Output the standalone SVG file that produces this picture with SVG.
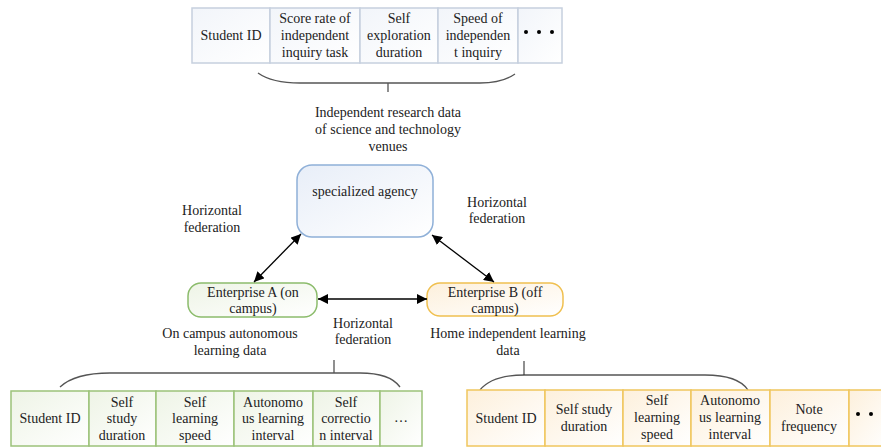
<svg xmlns="http://www.w3.org/2000/svg" width="881" height="448" viewBox="0 0 881 448">
<defs>
<linearGradient id="gBlue" x1="0" y1="0" x2="1" y2="1"><stop offset="0" stop-color="#e8eef8"/><stop offset="1" stop-color="#ffffff"/></linearGradient>
<linearGradient id="gTop" x1="0" y1="0" x2="1" y2="1"><stop offset="0" stop-color="#f2f5fa"/><stop offset="1" stop-color="#ffffff"/></linearGradient>
<linearGradient id="gGreen" x1="0" y1="0" x2="1" y2="1"><stop offset="0" stop-color="#eef4e6"/><stop offset="1" stop-color="#ffffff"/></linearGradient>
<linearGradient id="gOrange" x1="0" y1="0" x2="1" y2="1"><stop offset="0" stop-color="#fdf0dc"/><stop offset="1" stop-color="#ffffff"/></linearGradient>
<marker id="ah" viewBox="0 0 10 10" refX="10" refY="5" markerWidth="10" markerHeight="10" markerUnits="userSpaceOnUse" orient="auto-start-reverse"><path d="M0,0 L10,5 L0,10 z" fill="#000"/></marker>
</defs>
<style>
text{font-family:"Liberation Serif","Times New Roman",serif;font-size:14px;fill:#222;text-anchor:middle}
.tb{fill:url(#gTop);stroke:#c6d0de;stroke-width:1.5}
.gb{fill:url(#gGreen);stroke:#9cc27a;stroke-width:1.5}
.ob{fill:url(#gOrange);stroke:#f0c65e;stroke-width:1.5}
.brace{fill:none;stroke:#555;stroke-width:1.3}
.conn{stroke:#000;stroke-width:1.3;fill:none;marker-start:url(#ah);marker-end:url(#ah)}
.dot{fill:#000}
</style>

<g id="top-table">
<rect class="tb" x="192" y="8" width="78" height="55"/>
<rect class="tb" x="270" y="8" width="90" height="55"/>
<rect class="tb" x="360" y="8" width="78" height="55"/>
<rect class="tb" x="438" y="8" width="80" height="55"/>
<rect class="tb" x="518" y="8" width="44" height="55"/>
<text x="231" y="40">Student ID</text>
<text x="315" y="23">Score rate of</text><text x="315" y="40">independent</text><text x="315" y="57">inquiry task</text>
<text x="399" y="23">Self</text><text x="399" y="40">exploration</text><text x="399" y="57">duration</text>
<text x="478" y="23">Speed of</text><text x="478" y="40">independen</text><text x="478" y="57">t inquiry</text>
<circle class="dot" cx="526" cy="32" r="2"/><circle class="dot" cx="539" cy="32" r="2"/><circle class="dot" cx="552" cy="32" r="2"/>
<path class="brace" d="M258,73 Q272,83 300,83 L480,83 Q502,83 515,74 M388,83 L388,92"/>
<text x="388" y="117">Independent research data</text>
<text x="388" y="134">of science and technology</text>
<text x="388" y="151">venues</text>
</g>

<g id="agency">
<rect x="297" y="165" width="136" height="72" rx="15" fill="url(#gBlue)" stroke="#8fb0d8" stroke-width="1.5"/>
<text x="365" y="196">specialized agency</text>
</g>

<g id="enterprise-a">
<rect x="188" y="283" width="129" height="34" rx="13" fill="url(#gGreen)" stroke="#8cbc6c" stroke-width="1.5"/>
<text x="253" y="297">Enterprise A (on</text>
<text x="253" y="313">campus)</text>
</g>

<g id="enterprise-b">
<rect x="427" y="283" width="136" height="33" rx="13" fill="url(#gOrange)" stroke="#f0c050" stroke-width="1.5"/>
<text x="495" y="297">Enterprise B (off</text>
<text x="495" y="313">campus)</text>
</g>

<g id="connectors">
<line class="conn" x1="254" y1="282" x2="301" y2="234"/>
<line class="conn" x1="432" y1="235" x2="494" y2="282"/>
<line class="conn" x1="318" y1="299" x2="427" y2="299"/>
</g>

<g id="labels">
<text x="212" y="215">Horizontal</text><text x="212" y="232">federation</text>
<text x="497" y="207">Horizontal</text><text x="497" y="223">federation</text>
<text x="363" y="328">Horizontal</text><text x="363" y="344">federation</text>
<text x="230" y="338">On campus autonomous</text><text x="230" y="355">learning data</text>
<text x="508" y="338">Home independent learning</text><text x="508" y="355">data</text>
</g>

<g id="bottom-left-table">
<path class="brace" d="M60,387 Q75,373 110,373 L360,373 Q390,373 400,387 M334,360 L334,373"/>
<rect class="gb" x="11" y="391" width="78" height="55"/>
<rect class="gb" x="89" y="391" width="67" height="55"/>
<rect class="gb" x="156" y="391" width="78" height="55"/>
<rect class="gb" x="234" y="391" width="79" height="55"/>
<rect class="gb" x="313" y="391" width="67" height="55"/>
<rect class="gb" x="380" y="391" width="42" height="55"/>
<text x="50" y="423">Student ID</text>
<text x="122" y="407">Self</text><text x="122" y="423">study</text><text x="122" y="440">duration</text>
<text x="195" y="407">Self</text><text x="195" y="423">learning</text><text x="195" y="440">speed</text>
<text x="273" y="407">Autonomo</text><text x="273" y="423">us learning</text><text x="273" y="440">interval</text>
<text x="346" y="407">Self</text><text x="346" y="423">correctio</text><text x="346" y="440">n interval</text>
<text x="401" y="422">…</text>
</g>

<g id="bottom-right-table">
<path class="brace" d="M480,390 Q492,375 525,375 L705,375 Q738,375 748,390 M524,361 L524,375"/>
<rect class="ob" x="467" y="390" width="78" height="56"/>
<rect class="ob" x="545" y="390" width="78" height="56"/>
<rect class="ob" x="623" y="390" width="68" height="56"/>
<rect class="ob" x="691" y="390" width="79" height="56"/>
<rect class="ob" x="770" y="390" width="79" height="56"/>
<rect class="ob" x="849" y="390" width="40" height="56"/>
<text x="506" y="423">Student ID</text>
<text x="584" y="414">Self study</text><text x="584" y="431">duration</text>
<text x="657" y="405">Self</text><text x="657" y="422">learning</text><text x="657" y="439">speed</text>
<text x="730" y="405">Autonomo</text><text x="730" y="422">us learning</text><text x="730" y="439">interval</text>
<text x="809" y="414">Note</text><text x="809" y="431">frequency</text>
<circle class="dot" cx="858" cy="414" r="2"/><circle class="dot" cx="871" cy="414" r="2"/>
</g>
</svg>
